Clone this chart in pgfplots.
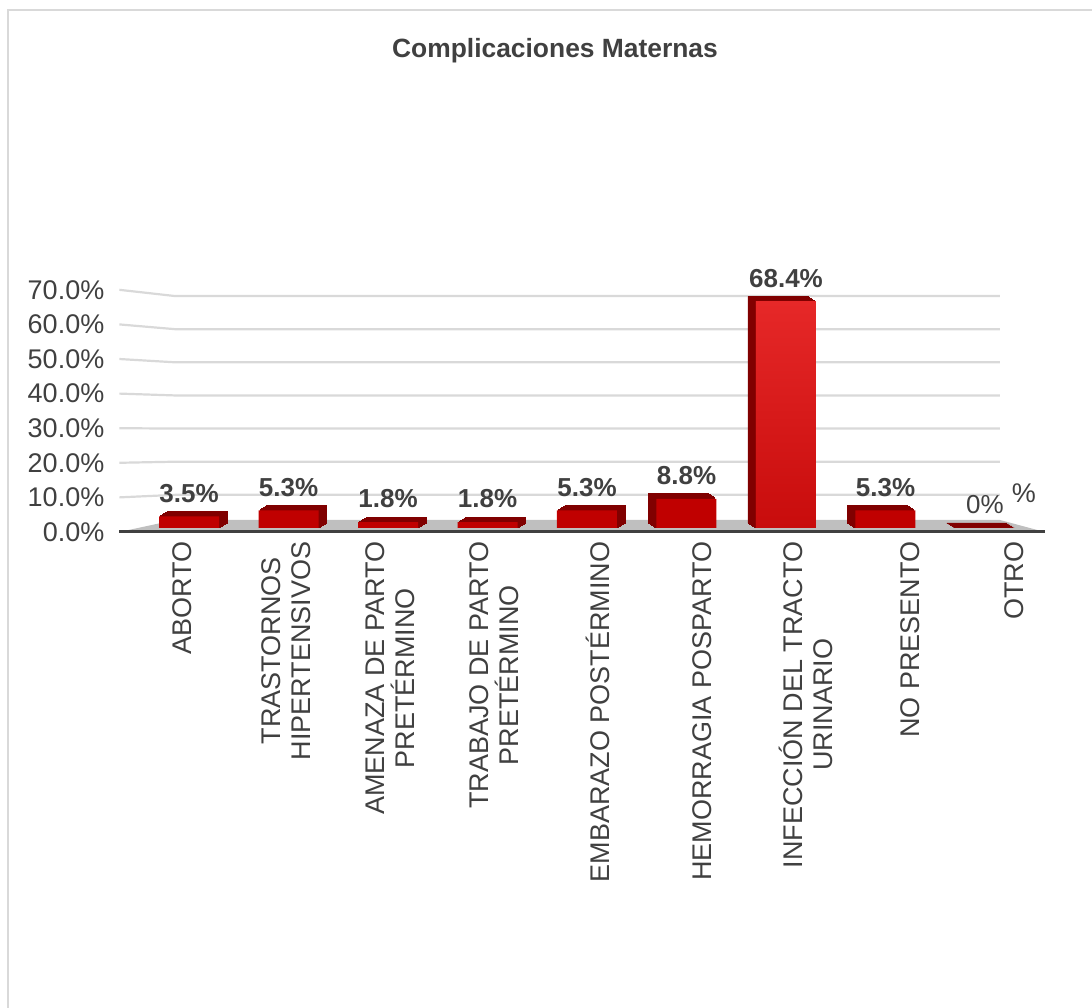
\documentclass[border=0pt]{standalone}
\usepackage{pgfplots}
\pgfplotsset{compat=1.18}
\usepackage{fontspec}
\setmainfont{Liberation Sans}
\definecolor{txt}{HTML}{404040}
\definecolor{gridc}{HTML}{D9D9D9}
\definecolor{barfront}{HTML}{C00000}
\definecolor{barside}{HTML}{800000}
\definecolor{floorc}{HTML}{BFBFBF}
\definecolor{framec}{HTML}{D9D9D9}
\begin{document}
\begin{tikzpicture}
\useasboundingbox (0,0) rectangle (546pt,503.5pt);
\draw[color=framec, line width=0.75pt] (4pt,-2pt) -- (4pt,498.5pt) -- (550pt,498.5pt);
\node[font=\fontsize{13.2}{15}\selectfont\bfseries, text=txt] at (277.5pt,478pt) {Complicaciones Maternas};
\begin{axis}[
  at={(59.68pt,236.2pt)}, anchor=south west,
  scale only axis, width=465.15pt, height=122.6pt,
  xmin=-0.7, xmax=8.65, ymin=-0.02, ymax=0.72,
  axis line style={draw=none}, tick style={draw=none},
  clip=false,
  ytick={-0.01207,0.09234,0.19674,0.30115,0.40555,0.50996,0.61437,0.71877},
  yticklabels={0.0\%,10.0\%,20.0\%,30.0\%,40.0\%,50.0\%,60.0\%,70.0\%},
  yticklabel style={font=\fontsize{13.5}{15}\selectfont, text=txt, xshift=-4pt},
  xtick={-0.1307,0.9146,1.9598,3.005,4.0503,5.0955,6.1407,7.186,8.2312},
  xticklabels={{ABORTO},{TRASTORNOS\\HIPERTENSIVOS},{AMENAZA DE PARTO\\PRETÉRMINO},{TRABAJO DE PARTO\\PRETÉRMINO},{EMBARAZO POSTÉRMINO},{HEMORRAGIA POSPARTO},{INFECCIÓN DEL TRACTO\\URINARIO},{NO PRESENTO},{OTRO}},
  xticklabel style={rotate=90, anchor=east, align=center, font=\fontsize{13.5}{15}\selectfont, text=txt, yshift=-3pt},
]
% gridlines (back plane) with slanted side-wall segments
\pgfplotsinvokeforeach{1,2,3,4,5,6,7}{
  \draw[color=gridc, line width=1.1pt] (axis cs:-0.7,{(34.6*#1-4)/331.4}) -- (axis cs:-0.1407,{#1*0.1}) -- (axis cs:8.1508,{#1*0.1});
}
% floor
\fill[floorc] (axis cs:-0.7,-0.0121) -- (axis cs:8.6,-0.0121) -- (axis cs:8.1508,0.0241) -- (axis cs:-0.1407,0.0241) -- cycle;
\draw[color=txt, line width=1.5pt] (axis cs:-0.7,-0.0121) -- (axis cs:8.6,-0.0121);
% extrusion (top and side faces)
\pgfplotsinvokeforeach{5,4,3,2,1}{
  \addplot[ybar, bar width=30pt, bar shift=0pt, fill=barside, draw=barside, line width=0.4pt, xshift=#1*0.8pt, yshift=#1*0.5pt, forget plot]
    coordinates {(0,0.035) (1,0.053) (2,0.018) (3,0.018) (4,0.053)};
  \addplot[ybar, bar width=30pt, bar shift=0pt, fill=barside, draw=barside, line width=0.4pt, xshift=-#1*0.8pt, yshift=#1*0.5pt, forget plot]
    coordinates {(5,0.088) (6,0.684) (7,0.053) (8,0)};
}
% front faces
\addplot[ybar, bar width=30pt, bar shift=0pt, fill=barfront, draw=none,
  point meta=explicit symbolic, nodes near coords,
  nodes near coords style={font=\fontsize{13}{15}\selectfont\bfseries, text=txt, anchor=south, yshift=3.5pt}]
  coordinates {(0,0.035) [3.5\%] (1,0.053) [5.3\%] (2,0.018) [1.8\%] (3,0.018) [1.8\%] (4,0.053) [5.3\%] (5,0.088) [8.8\%] (6,0.684) [68.4\%] (7,0.053) [5.3\%] (8,0) [\mdseries 0\%]};
\addplot[ybar, bar width=30pt, bar shift=0pt, top color={rgb,255:red,230;green,40;blue,40}, bottom color={rgb,255:red,200;green,12;blue,12}, draw=none, forget plot]
  coordinates {(6,0.684)};
\node[font=\fontsize{13.5}{15}\selectfont, text=txt] at (axis cs:8.39,0.106) {\%};
\end{axis}
\end{tikzpicture}
\end{document}
